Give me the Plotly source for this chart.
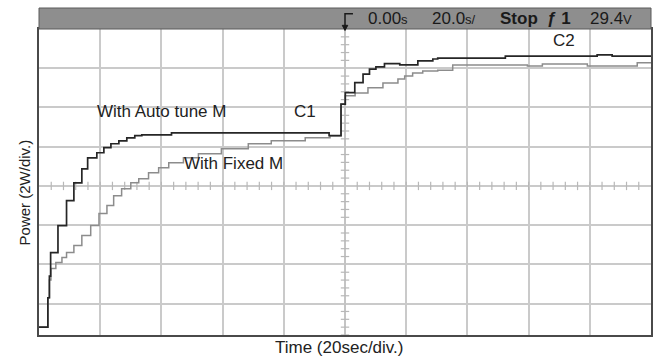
import numpy as np
import plotly.graph_objects as go

# ---- data (time in s, power in W) ----
auto_t = [-100, -97.1, -96.6, -96.2, -93.8, -91.0, -88.6, -86.0, -84.1, -81.1, -78.8,
          -76.5, -73.9, -71.3, -68.7, -66.4, -56.7, -5.2, -1.3, 0.1, 3.2, 5.9, 8.0,
          10.1, 12.9, 17.9, 23.8, 28.7, 30.3, 52.4, 82.4, 87.3, 100]
auto_p = [0.8, 2.3, 3.4, 4.6, 5.98, 7.25, 8.16, 8.87, 9.43, 9.69, 9.95,
          10.15, 10.3, 10.45, 10.56, 10.6, 10.7, 10.56, 12.17, 12.76, 13.27, 13.7, 13.95,
          14.07, 14.23, 14.17, 14.37, 14.47, 14.52, 14.62, 14.68, 14.62, 14.62]

fixed_t = [-100, -97.1, -96.6, -96.1, -94.5, -92.5, -91.0, -88.6, -86.0, -83.1, -80.4,
           -77.8, -75.6, -73.0, -70.0, -67.4, -64.2, -60.9, -57.6, -52.8, -47.9, -40.4,
           -31.6, -24.1, -13.0, -4.9, -1.3, 0.0, 3.3, 7.5, 12.4, 17.3, 19.5, 22.1, 25.4,
           30.3, 35.2, 49.8, 59.6, 64.5, 79.2, 95.5, 100]
fixed_p = [0.8, 2.3, 3.2, 3.79, 4.1, 4.35, 4.6, 4.96, 5.47, 5.98, 6.59,
           7.0, 7.5, 7.86, 8.16, 8.37, 8.67, 8.93, 9.18, 9.44, 9.64, 9.9,
           10.15, 10.3, 10.45, 10.56, 12.17, 12.6, 12.74, 13.0, 13.25, 13.45, 13.6, 13.76, 13.86,
           13.9, 14.17, 14.17, 14.12, 14.22, 14.12, 14.28, 14.28]

header_labels = ["0.00<span style='font-size:13px'>s</span>",
                 "20.0<span style='font-size:13px'>s/</span>",
                 "<b>Stop</b>", "<b>ƒ 1</b>",
                 "29.4<span style='font-size:13px'>V</span>"]
header_x = [14.0, 35.5, 56.7, 70.0, 87.0]

XR = [-100, 100]
YR = [0.4, 16]
FONT = "Liberation Sans"
TXT = "#222222"
GRID = "#cacaca"

fig = go.Figure()

# minor ticks on centre lines
mt_x = np.arange(-100, 100.01, 4.0)
mt_x = mt_x[(mt_x > -100) & (mt_x < 100) & (np.abs(mt_x) > 0.01)]
fig.add_trace(go.Scatter(x=mt_x, y=np.full(mt_x.shape, 8.0), mode="markers",
                         marker=dict(symbol="line-ns-open", size=6, color="#b8b8b8",
                                     line=dict(width=1.2, color="#b8b8b8")),
                         hoverinfo="skip", showlegend=False))
mt_y = np.arange(0.4, 16.0, 0.4)
mt_y = mt_y[np.abs(mt_y - np.round(mt_y / 2) * 2) > 0.05]
fig.add_trace(go.Scatter(x=np.zeros(mt_y.shape), y=mt_y, mode="markers",
                         marker=dict(symbol="line-ew-open", size=6, color="#b8b8b8",
                                     line=dict(width=1.2, color="#b8b8b8")),
                         hoverinfo="skip", showlegend=False))

fig.add_trace(go.Scatter(x=fixed_t, y=fixed_p, mode="lines", line_shape="hv",
                         line=dict(color="#8c8c8c", width=1.5), showlegend=False))
fig.add_trace(go.Scatter(x=auto_t, y=auto_p, mode="lines", line_shape="hv",
                         line=dict(color="#262626", width=1.7), showlegend=False))

# header bar
fig.add_shape(type="rect", xref="paper", yref="paper", x0=0, x1=1, y0=1.0, y1=1.0686,
              fillcolor="#8e8e8e", line=dict(color="#5a5a5a", width=1), layer="above")
for lab, hx in zip(header_labels, header_x):
    fig.add_annotation(x=hx, y=1.034, xref="x", yref="paper", text=lab, showarrow=False,
                       font=dict(family=FONT, size=17, color="#1a1a1a"),
                       xanchor="center", yanchor="middle")
# trigger marker
fig.add_shape(type="path", xref="x", yref="paper",
              path="M 0,1.0 L 0,1.050 L 2.6,1.050", line=dict(color="#1a1a1a", width=1.5),
              layer="above")
fig.add_shape(type="path", xref="x", yref="paper",
              path="M -0.9,1.012 L 0.9,1.012 L 0,0.995 Z", fillcolor="#1a1a1a",
              line=dict(color="#1a1a1a", width=1), layer="above")

# labels
for txt, tx, ty in [("With Auto tune M", -59.9, 11.8), ("C1", -13.0, 11.8),
                    ("With Fixed M", -36.5, 9.15), ("C2", 71.7, 15.4)]:
    fig.add_annotation(x=tx, y=ty, text=txt, showarrow=False,
                       font=dict(family=FONT, size=17, color=TXT),
                       xanchor="center", yanchor="middle")

fig.add_annotation(x=0.49, y=-0.042, xref="paper", yref="paper", text="Time (20sec/div.)",
                   showarrow=False, font=dict(family=FONT, size=17, color=TXT),
                   xanchor="center", yanchor="middle")
fig.add_annotation(x=-0.024, y=0.467, xref="paper", yref="paper", text="Power (2W/div.)",
                   showarrow=False, textangle=-90, font=dict(family=FONT, size=15, color=TXT),
                   xanchor="center", yanchor="middle")

fig.update_xaxes(range=XR, tick0=-100, dtick=20, showticklabels=False, ticks="",
                 showgrid=True, gridcolor=GRID, gridwidth=2, zeroline=True,
                 zerolinecolor="#c4c4c4", zerolinewidth=1.5,
                 showline=True, mirror=True, linecolor="#4a4a4a", linewidth=2)
fig.update_yaxes(range=YR, tick0=0, dtick=2, showticklabels=False, ticks="",
                 showgrid=True, gridcolor=GRID, gridwidth=2, zeroline=False,
                 showline=True, mirror=True, linecolor="#4a4a4a", linewidth=2)

fig.update_layout(width=662, height=360, margin=dict(l=39, r=9, t=29, b=25),
                  paper_bgcolor="white", plot_bgcolor="white", showlegend=False)

fig.write_html("out.html")
